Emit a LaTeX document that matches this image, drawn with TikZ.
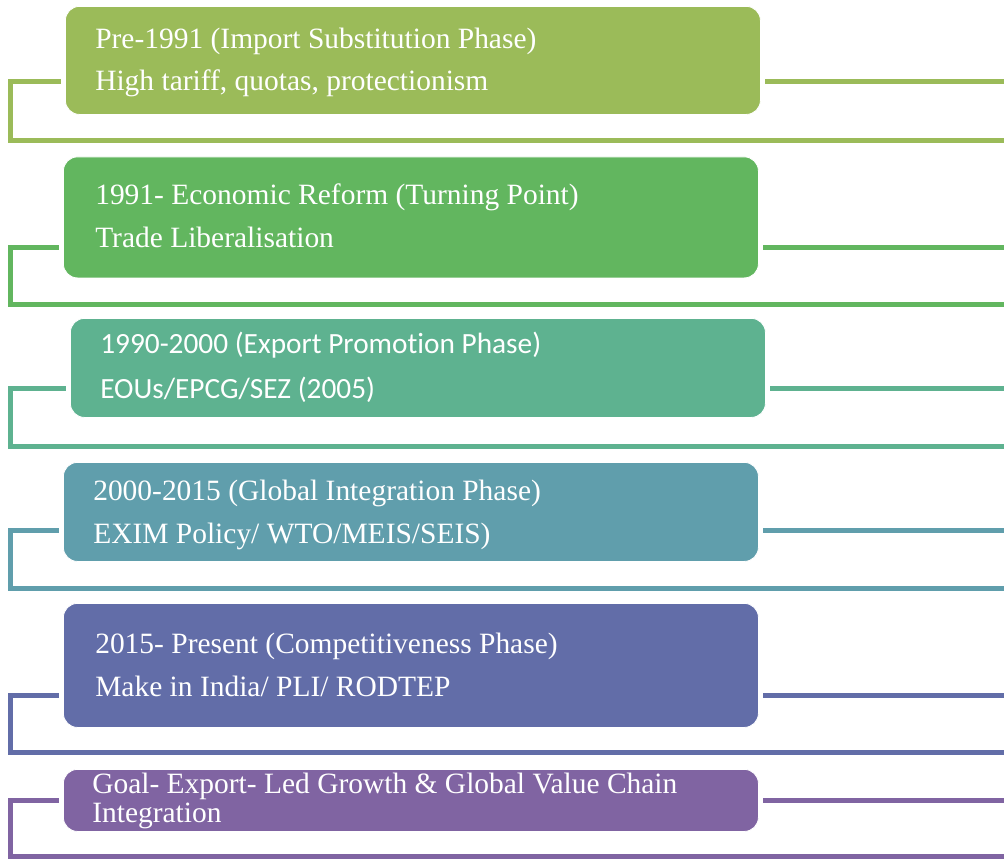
\documentclass[tikz,border=0pt]{standalone}
\usepackage{fontspec}
\setmainfont{Liberation Serif}
\newfontfamily\calfont[Ligatures={NoCommon}]{Carlito}
\definecolor{cA}{HTML}{9BBB59}
\definecolor{cB}{HTML}{62B65F}
\definecolor{cC}{HTML}{5EB290}
\definecolor{cD}{HTML}{609EAC}
\definecolor{cE}{HTML}{626DA8}
\definecolor{cF}{HTML}{8064A2}
\tikzset{
  phase/.style={rectangle, rounded corners=10.5pt, draw=white, line width=0.6pt,
    inner sep=0pt, anchor=north west},
  label/.style={anchor=base west, inner sep=0pt, text=white,
    font=\fontsize{22.1}{26}\selectfont},
  clabel/.style={label, font=\calfont\fontsize{22}{26}\selectfont},
  link/.style={line width=3.75pt, line cap=butt, line join=miter},
}
\begin{document}
\begin{tikzpicture}[x=0.75pt,y=-0.75pt]
\useasboundingbox (0,0) rectangle (1004,858);

% phase boxes
\node[phase, fill=cA, minimum width=695*0.75pt, minimum height=108*0.75pt] (p1) at (65,6) {};
\node[phase, fill=cB, minimum width=695*0.75pt, minimum height=121*0.75pt] (p2) at (63,156.5) {};
\node[phase, fill=cC, minimum width=695*0.75pt, minimum height=99*0.75pt] (p3) at (70,318) {};
\node[phase, fill=cD, minimum width=695*0.75pt, minimum height=99*0.75pt] (p4) at (63,462) {};
\node[phase, fill=cE, minimum width=695*0.75pt, minimum height=124*0.75pt] (p5) at (63,603) {};
\node[phase, fill=cF, minimum width=695*0.75pt, minimum height=62*0.75pt] (p6) at (63,769) {};

% labels
\node[label] (t1a) at (95,48) {Pre-1991 (Import Substitution Phase)};
\node[label] (t1b) at (95,90) {High tariff, quotas, protectionism};
\node[label] (t2a) at (95,204) {1991- Economic Reform (Turning Point)};
\node[label] (t2b) at (95,247) {Trade Liberalisation};
\node[clabel] (t3a) at (100,353) {1990-2000 (Export Promotion Phase)};
\node[clabel] (t3b) at (100,398) {EOUs/EPCG/SEZ (2005)};
\node[label] (t4a) at (93,500) {2000-2015 (Global Integration Phase)};
\node[label] (t4b) at (93,543) {EXIM Policy/ WTO/MEIS/SEIS)};
\node[label] (t5a) at (95,653) {2015- Present (Competitiveness Phase)};
\node[label] (t5b) at (95,696) {Make in India/ PLI/ RODTEP};
\node[label] (t6a) at (92,793) {Goal- Export- Led Growth \& Global Value Chain};
\node[label] (t6b) at (92,822) {Integration};

% bracket connectors: left stub, down, across; right stub to the edge
\foreach \n/\c/\sy/\by in {p1/cA/81/140, p2/cB/247/304, p3/cC/388/446,
                          p4/cD/530/588, p5/cE/695/752, p6/cF/800/856} {
  \coordinate (\n-l) at (10.5,\sy);
  \coordinate (\n-b) at (10.5,\by);
  \coordinate (\n-e) at (1004,\by);
  \coordinate (\n-r) at (1004,\sy);
  \draw[link, draw=\c] ([xshift=-4.5*0.75pt]\n.west |- \n-l) -- (\n-l) -- (\n-b) -- (\n-e);
  \draw[link, draw=\c] ([xshift=4.5*0.75pt]\n.east |- \n-r) -- (\n-r);
}
\end{tikzpicture}
\end{document}
